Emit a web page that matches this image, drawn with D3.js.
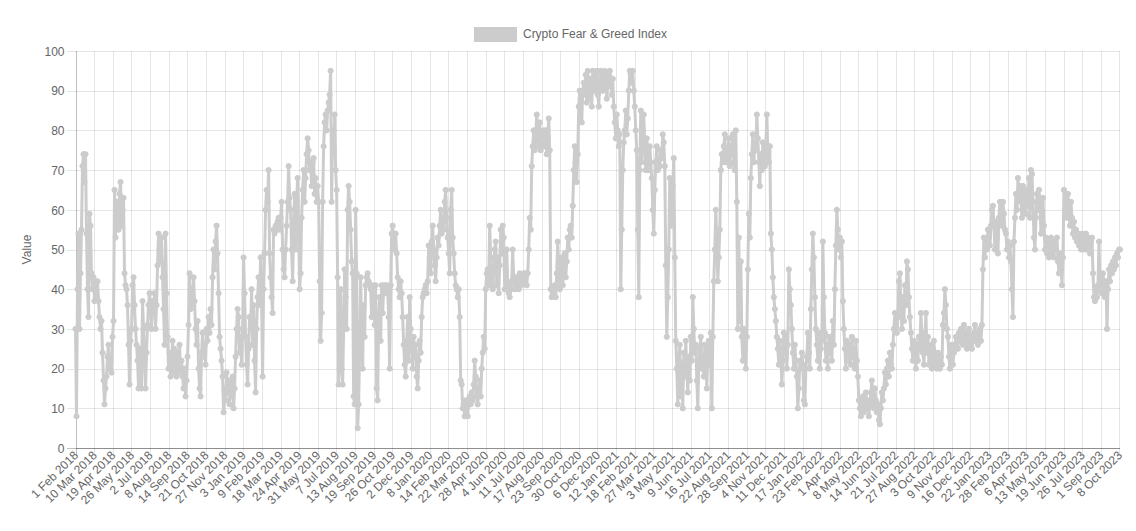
<!DOCTYPE html>
<html>
<head>
<meta charset="utf-8">
<script src="https://cdn.jsdelivr.net/npm/d3@7"></script>
<style>
  html, body { margin: 0; padding: 0; background: #fff; }
  svg { display: block; font-family: "Liberation Sans", Arial, Helvetica, sans-serif; }
</style>
</head>
<body>
<svg id="chart" width="1136" height="531"></svg>
<script>
// Crypto Fear & Greed Index, one reading about every two days
const fg2018 = [
  30,8,40,54,30,44,55,71,74,67, 74,54,40,33,59,56,44,40,43,37,
  41,38,42,37,33,30,32,24,17,11, 15,18,23,26,20,22,19,28,32,65,
  53,62,58,55,64,67,56,60,63,44, 41,40,36,26,16,27,30,41,43,36,
  30,26,22,15,25,19,15,37,30,22, 15,24,31,36,39,35,30,37,34,39,
  30,36,46,54,50,47,53,43,35,26, 54,39,28,20,24,18,22,27,19,25,
  21,18,24,20,26,19,22,18,15,20, 13,17,23,31,44,35,40,36,43,37,
  30,26,32,20,15,13,24,29,23,26, 21,30,27,33,29,35,31,43,50,45,
  52,56,49,39,28,25,22,18,9,15, 12,19,14,17,11,16,13,18,10,15,
  23,30,35,33,24,28,21
];
const fg2019 = [
  30,48,39, 28,21,16,25,33,30,40,26,36,22, 14,30,38,43,36,
  48,38,18,40,49,60,65,62,70,49, 43,38,34,55,54,56,55,57,58,55,
  58,62,50,45,43,50,56,62,71,63, 60,50,42,55,64,50,62,68,55,40,
  44,58,65,70,62,68,74,78,75,70, 72,66,72,73,64,68,62,66,62,42,
  27,34,62,76,82,84,80,85,87,89, 95,62,80,75,84,70,65,43,16,33,
  40,20,16,30,45,38,30,60,66,62, 55,47,44,13,11,
  60,44,5,11,25,43,30,20,36,28, 41,43,44,42,41,40,33,41,35,31,
  41,15,12,33,38,27,41,34,40,41, 39,41,40,33,20,41,54,56,52,50,
  54,49,43,40,38,42,39,33,26,21, 18,27,33,22,38,30,25,20,28,23,
  26,18,15,22,27,24,33,38,39,40, 41
];
const fg2020 = [
  39,42,51,48,44,52,56,50,46, 42,48,53,51,56,60,54,58,55,62, 65,58,53,49,44,
  60,65,53,49,44,41,40,38,40,33, 17,16,10,11,8,12,10,8,12,13,
  11,14,12,16,22,18,13,11,14,17, 13,20,24,28,25,40,44,45,41,56,
  48,42,40,45,50,52,41,48,39,46, 55,49,56,53,40,45,50,41,39,38,
  40,42,50,43,40,41,43,42,40,44, 42,41,43,44,42,44,41,44,50,58,
  55,71,76,80,75,78,84,80,76,82, 75,79,77,80,76,
  80,74,78,83,75,40,38,40,39,41, 38,44,52,46,40,44,48,41,46,49,
  43,47,53,50,55,56,53,61,70,76, 72,67,74,86,90,88,82,90,92,89,
  94,87,95,91,88,93,86,95,92,90, 94,95,89,86,92,95,94,90,92,95,
  93,88,91,94,95
];
const fg2021 = [
  92,89,93,86,82, 78,84,80,76,79,40,55,70,77,80, 85,79,83,90,95,94,92,95,90,86,
  80,75,55,38,70,85,72,80,84,76, 70,78,74,70,76,72,68,60,54,65,
  72,76,70,73,71,75,73,79,77,71, 46,28,38,50,68,62,56,66,73,48,
  27,20,11,22,26,13,21,10,24,18, 27,20,14,23,17,28,22,38,30,24,
  26,17,10,21,25,28,20,23,18,26, 22,15,24,27,21,29,10,28,42,50,
  60,53,42,48,55,70,74,72,76,79, 72,75,73,78,71,76,74,79,72,70,
  80,62,30,53,32,47,28,22,30,25, 20,28,45,59,53,68,74,79,72,76,
  75,84,78,72,66,74,70,77,73,71, 76,84,75,72,76,54,50,43,38,35,
  32,28,25,21,27,24,16,22,29,24, 28,20,26,45,40,36,30,24,20
];
const fg2022 = [
  26, 22,18,10,15,22,20,24,21,12,11, 20,23,29,24,20,35,45,54,48,38,
  30,26,22,29,20,25,27,52,38,29, 22,26,20,28,24,28,22,32,26,40,
  51,60,55,50,53,48,52,37,30,25, 20,27,24,22,26,21,28,23,25,20,
  27,22,18,12,10,8,11,13,9,12, 14,10,12,8,11,14,17,13,10,15,
  12,9,11,7,6,10,14,12,15,19, 16,20,22,18,24,21,20,26,30,34,
  31,29,33,42,44,35,30,38,32,41, 36,47,45,38,33,29,25,22,27,24,
  20,26,22,28,25,34,29,24,21,27, 34,24,28,21,26,22,20,25,27,21,
  23,20,24,22,20,23,21,31,34,40, 36,30,28,23,20,22,26,21,24,26,
  28,27,25,29,27,30,28,26,31,27, 29,25,28,30,26,28,25,27,29,31,
  27,29,26
];
const fg2023 = [
  28,30,27,31,45,53,48, 52,50,55,53,51,56,60,61,56,50,
  57,53,49,58,62,60,56,62,59,55, 54,50,52,48,51,47,40,33,52,58,
  64,60,68,63,66,
  62,58,66,60,64,59,65,61,68,58, 70,69,62,53,50,58,64,60,65,62,
  54,59,63,56,50,53,49,52,48,50, 53,49,51,48,52,50,53,47,44,49,
  46,41,48,65,60,63,58,64,60,56, 62,58,54,57,53,55,52,54,51,53,
  50,54,52,50,53,54,50,53,51,49, 52,53,44,38,37,40,38,41,52,40,
  43,39,44,41,38,42,30,40,45,42, 46,44,47,45,48,46,49,48,50,50
];

// shown x labels, one every 37 days of the daily series (day 0 .. day 2073)
const tickLabels = [
  "1 Feb 2018","10 Mar 2018","19 Apr 2018","26 May 2018","2 Jul 2018","8 Aug 2018",
  "14 Sep 2018","21 Oct 2018","27 Nov 2018","3 Jan 2019","9 Feb 2019","18 Mar 2019",
  "24 Apr 2019","31 May 2019","7 Jul 2019","13 Aug 2019","19 Sep 2019","26 Oct 2019",
  "2 Dec 2019","8 Jan 2020","14 Feb 2020","22 Mar 2020","28 Apr 2020","4 Jun 2020",
  "11 Jul 2020","17 Aug 2020","23 Sep 2020","30 Oct 2020","6 Dec 2020","12 Jan 2021",
  "18 Feb 2021","27 Mar 2021","3 May 2021","9 Jun 2021","16 Jul 2021","22 Aug 2021",
  "28 Sep 2021","4 Nov 2021","11 Dec 2021","17 Jan 2022","23 Feb 2022","1 Apr 2022",
  "8 May 2022","14 Jun 2022","21 Jul 2022","27 Aug 2022","3 Oct 2022","9 Nov 2022",
  "16 Dec 2022","22 Jan 2023","28 Feb 2023","6 Apr 2023","13 May 2023","19 Jun 2023",
  "26 Jul 2023","1 Sep 2023","8 Oct 2023"
];
const tickStep = 37;
const lastDay = 2073;
const yTicks = [0, 10, 20, 30, 40, 50, 60, 70, 80, 90, 100];

const seriesName = "Crypto Fear & Greed Index";
const yTitle = "Value";

const values = [].concat(fg2018, fg2019, fg2020, fg2021, fg2022, fg2023);

const lineColor = "rgb(204,204,204)";
const textColor = "#666";
const gridColor = "rgba(0,0,0,0.1)";
const axisColor = "rgba(0,0,0,0.25)";

const W = 1136, H = 531;
const margin = {top: 51, right: 16, bottom: 83, left: 75.5};
const innerW = W - margin.left - margin.right;
const innerH = H - margin.top - margin.bottom;

const svg = d3.select("#chart");
const g = svg.append("g").attr("transform", `translate(${margin.left},${margin.top})`);

// scales: ticks live on the day axis, readings on their own index axis, same span
const xDay = d3.scaleLinear().domain([0, lastDay]).range([0, innerW]);
const xIdx = d3.scaleLinear().domain([0, values.length - 1]).range([0, innerW]);
const y = d3.scaleLinear().domain([0, 100]).range([innerH, 0]);

// y grid + ticks
const yAxis = d3.axisLeft(y).tickValues(yTicks).tickSize(-innerW).tickPadding(11);
const yG = g.append("g").call(yAxis);
yG.select(".domain").remove();
yG.selectAll(".tick line")
  .attr("x1", -9)
  .attr("stroke", d => d === 0 ? axisColor : gridColor)
  .attr("shape-rendering", "crispEdges");
yG.selectAll(".tick text")
  .attr("fill", textColor)
  .style("font-size", "12px")
  .attr("dy", "0.35em");

// x grid + rotated labels
const xAxis = d3.axisBottom(xDay)
  .tickValues(tickLabels.map((t, k) => k * tickStep))
  .tickFormat((d, k) => tickLabels[k])
  .tickSize(-innerH);
const xG = g.append("g").attr("transform", `translate(0,${innerH})`).call(xAxis);
xG.select(".domain").remove();
xG.selectAll(".tick line")
  .attr("y1", 8)
  .attr("stroke", d => d === 0 ? axisColor : gridColor)
  .attr("shape-rendering", "crispEdges");
xG.selectAll(".tick text")
  .attr("fill", textColor)
  .style("font-size", "12px")
  .attr("text-anchor", "end")
  .attr("transform", "translate(0,5) rotate(-45)")
  .attr("dy", "0.35em")
  .attr("y", 0)
  .attr("x", 0);

// bottom axis line
g.append("line")
  .attr("x1", 0).attr("x2", innerW)
  .attr("y1", innerH).attr("y2", innerH)
  .attr("stroke", axisColor)
  .attr("shape-rendering", "crispEdges");

// series line
const line = d3.line()
  .x((d, i) => xIdx(i))
  .y(d => y(d));

g.append("path")
  .datum(values)
  .attr("fill", "none")
  .attr("stroke", lineColor)
  .attr("stroke-width", 3)
  .attr("stroke-linejoin", "round")
  .attr("d", line);

g.append("g")
  .selectAll("circle")
  .data(values)
  .join("circle")
  .attr("cx", (d, i) => xIdx(i))
  .attr("cy", d => y(d))
  .attr("r", 2.6)
  .attr("fill", lineColor)
  .attr("stroke", lineColor)
  .attr("stroke-width", 1);

// y title
svg.append("text")
  .attr("transform", `translate(31,${margin.top + innerH / 2}) rotate(-90)`)
  .attr("text-anchor", "middle")
  .attr("fill", textColor)
  .style("font-size", "12px")
  .text(yTitle);

// legend
const legend = svg.append("g");
const legText = legend.append("text")
  .attr("x", 48)
  .attr("y", 34)
  .attr("dy", "0.35em")
  .attr("fill", textColor)
  .style("font-size", "12px")
  .text(seriesName);
const textW = legText.node().getComputedTextLength();
const legW = 40 + 8 + textW;
const legX = (W - legW) / 2 + 3;
legend.attr("transform", `translate(${legX},0)`);
legend.insert("rect", "text")
  .attr("x", 0.5).attr("y", 28.5)
  .attr("width", 40).attr("height", 12)
  .attr("fill", lineColor)
  .attr("stroke", lineColor)
  .attr("stroke-width", 3);
</script>
</body>
</html>
